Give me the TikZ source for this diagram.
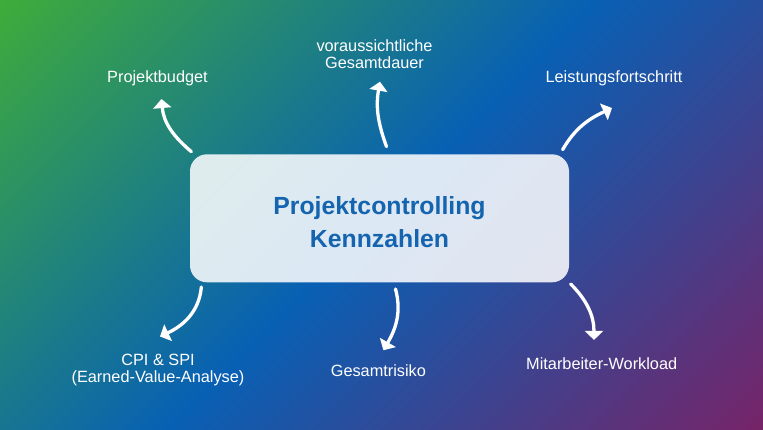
\documentclass[tikz,border=0pt]{standalone}
\usepackage{fontspec}
\setmainfont{Liberation Sans}
\usetikzlibrary{arrows.meta,positioning}
\definecolor{bggreen}{RGB}{62,172,58}
\definecolor{bgblue}{RGB}{8,96,180}
\definecolor{bgpurple}{RGB}{118,36,104}
\definecolor{ttblue}{RGB}{20,100,175}
\tikzstyle{kz} = [rectangle, fill=white, fill opacity=.86, text opacity=1,
    rounded corners=17pt, minimum width=379pt, minimum height=128pt,
    text=ttblue, align=center, text height=58pt,
    font=\fontsize{24.8}{33}\selectfont\bfseries]
\tikzstyle{lb} = [inner sep=0pt, text=white, align=center,
    font=\fontsize{16.3}{17}\selectfont]

\begin{document}
\begin{tikzpicture}[x=1pt,y=1pt,-{Triangle[width=18pt,length=9pt]},
                    line width=3.3pt,white,line cap=round]

  % background
  \useasboundingbox (0,0) rectangle (763,429);
  \begin{scope}
    \clip (0,0) rectangle (763,429);
    \shade[top color=bggreen, bottom color=bgpurple, middle color=bgblue,
           shading angle=45] (-40,-207) rectangle ++(843,843);
  \end{scope}

  \node[kz]               (0) at (379.5,210.7) {Projektcontrolling\\Kennzahlen};
  \node[lb,anchor=base]   (1) at (157.5,346) {Projektbudget};
  \node[lb,anchor=south]  (2) at (374.5,359) {voraussichtliche\\Gesamtdauer};
  \node[lb,anchor=base]   (3) at (614,346) {Leistungsfortschritt};
  \node[lb,anchor=north]  (4) at (158,76.5) {CPI \& SPI\\(Earned-Value-Analyse)};
  \node[lb,anchor=base]   (5) at (378.4,52.3) {Gesamtrisiko};
  \node[lb,anchor=base]   (6) at (601.7,60) {Mitarbeiter-Workload};

  \path ([xshift=3pt,yshift=1pt]0.north west) edge[out=140,in=-85] ([xshift=4pt,yshift=-11pt]1.south)
  ([xshift=7pt,yshift=6pt]0.north) edge[out=110,in=-100] ([xshift=5.5pt,yshift=-11.7pt]2.south)
  ([xshift=-8pt,yshift=3pt]0.north east) edge[out=60,in=-155] ([xshift=-2pt,yshift=-20pt]3.south)
  ([xshift=13pt,yshift=-3pt]0.south west) edge[out=-95,in=25] ([xshift=2pt,yshift=16pt]4.north)
  ([xshift=16pt,yshift=-5pt]0.south) edge[out=-75,in=60] ([xshift=5pt,yshift=13pt]5.north)
  (0.south east) edge[out=-45,in=90] ([xshift=-7.7pt,yshift=15.6pt]6.north);
\end{tikzpicture}
\end{document}
